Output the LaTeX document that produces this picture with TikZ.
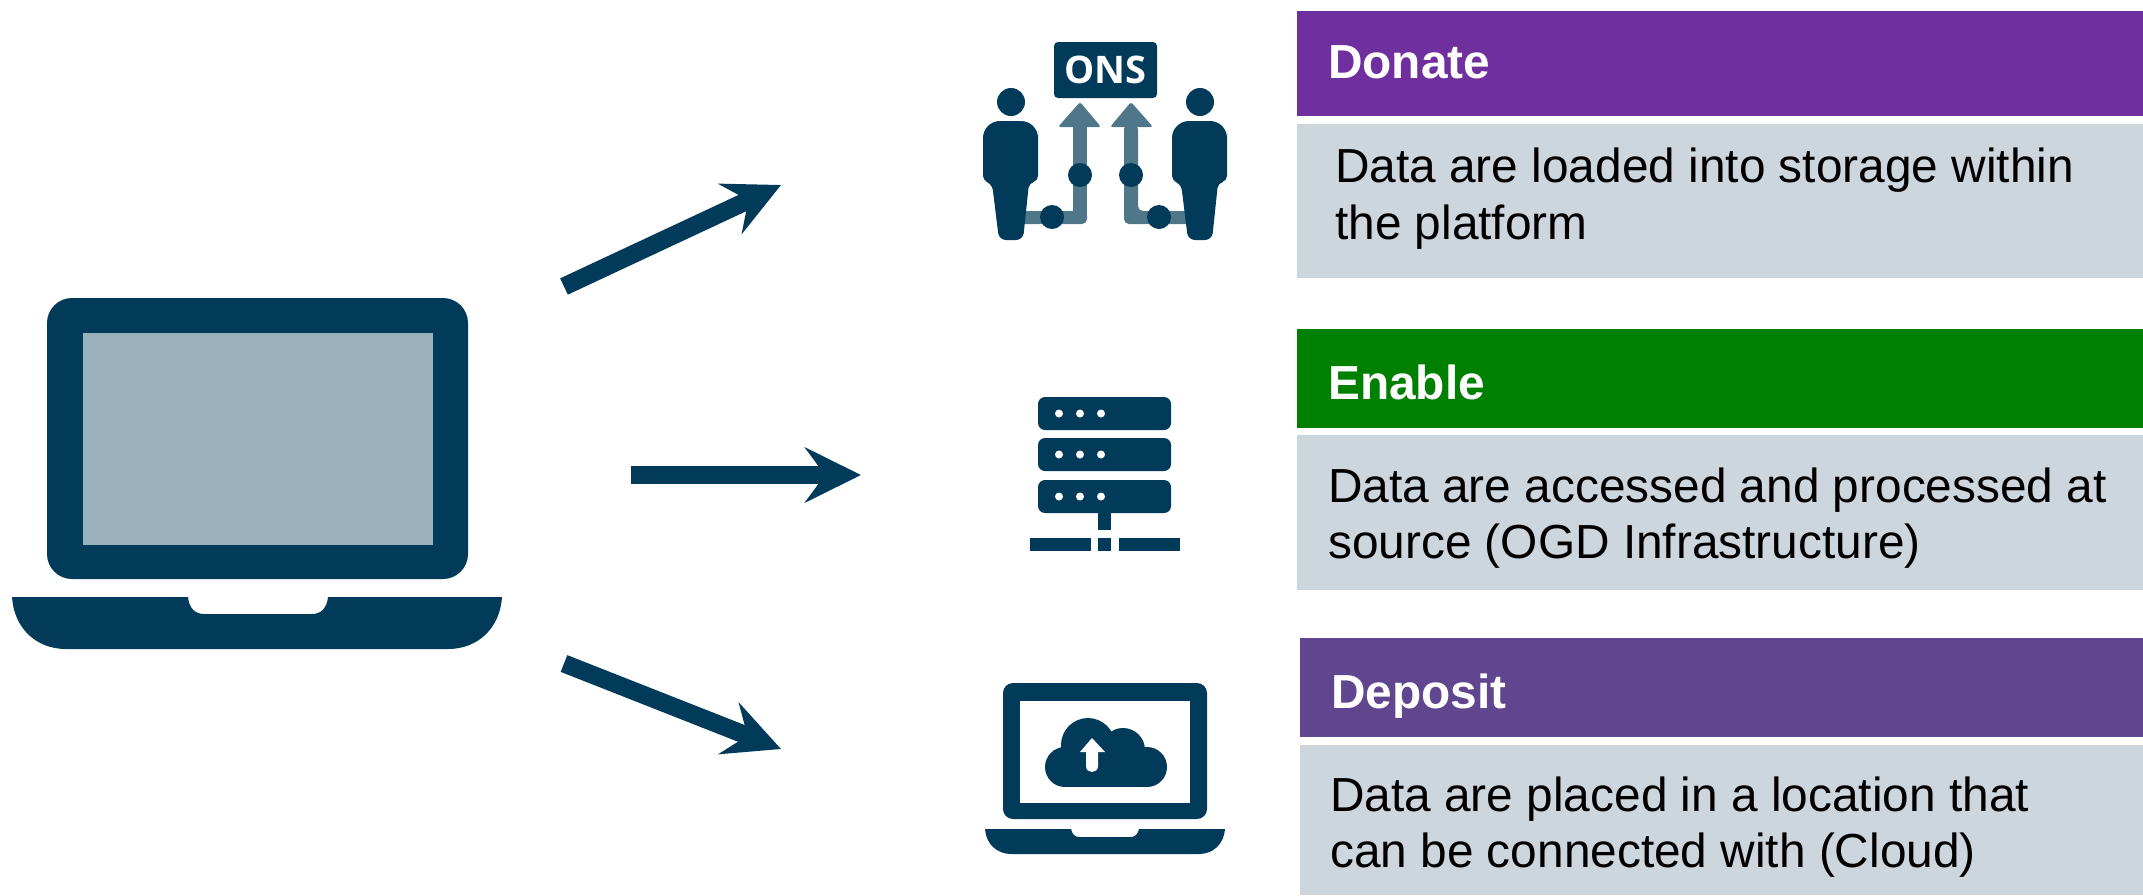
\documentclass[tikz,border=0pt]{standalone}
\usepackage{fontspec}
\setmainfont{Liberation Sans}
\newfontfamily\iconfont{Open Sans}
\usetikzlibrary{arrows.meta}
\definecolor{navy}{HTML}{023B5A}
\definecolor{midblue}{HTML}{4F7689}
\definecolor{screenblue}{HTML}{9AB0BC}
\definecolor{panelgrey}{HTML}{CDD5DD}
\definecolor{donatepurple}{HTML}{6F2F9E}
\definecolor{enablegreen}{HTML}{008000}
\definecolor{depositpurple}{HTML}{60468F}
\tikzset{
  x=1pt,y=-1pt,
  conn/.style={draw=navy,line width=18pt,-{Stealth[length=56pt,width=55pt,inset=20pt,fill=navy]}},
  panel/.style={anchor=north west,inner sep=0pt,outer sep=0pt,draw=none},
  head/.style={anchor=base west,inner sep=0pt,text=white,font=\fontsize{47.8}{58}\selectfont\bfseries},
  body/.style={anchor=base west,inner sep=0pt,text=black,font=\fontsize{47.8}{58}\selectfont},
  person/.pic={
    \fill[navy] (0,0) circle[radius=14];
    \fill[navy,rounded corners=17pt] (-28,45) -- (-28,19) -- (27,19) -- (27,45)
      [rounded corners=5pt] -- (27,79) -- (18,81)
      [rounded corners=7pt] -- (12,138) -- (-12,138)
      -- (-19,81) [rounded corners=5pt] -- (-28,79) -- cycle;
  },
  srv/.pic={
    \fill[navy,rounded corners=7pt] (0,0) rectangle (133,33);
    \foreach \d in {21,42,63} \fill[white] (\d,16.5) circle[radius=4];
  },
}
\begin{document}
\begin{tikzpicture}
\useasboundingbox (0,0) rectangle (2143,895);
% panels
\node[panel,fill=donatepurple,minimum width=846pt,minimum height=105pt] (donate) at (1297,11) {};
\node[panel,fill=panelgrey,minimum width=846pt,minimum height=154pt] (donatebody) at (1297,124) {};
\node[panel,fill=enablegreen,minimum width=846pt,minimum height=99pt] (enable) at (1297,329) {};
\node[panel,fill=panelgrey,minimum width=846pt,minimum height=155pt] (enablebody) at (1297,435) {};
\node[panel,fill=depositpurple,minimum width=843pt,minimum height=99pt] (deposit) at (1300,638) {};
\node[panel,fill=panelgrey,minimum width=843pt,minimum height=150pt] (depositbody) at (1300,745) {};
% panel text
\node[head] (t1) at (1328,78) {Donate};
\node[body] (t2) at (1335,182) {Data are loaded into storage within};
\node[body] (t3) at (1335,239) {the platform};
\node[head] (t4) at (1328,399) {Enable};
\node[body] (t5) at (1328,502) {Data are accessed and processed at};
\node[body] (t6) at (1328,558) {source (OGD Infrastructure)};
\node[head] (t7) at (1331,708) {Deposit};
\node[body] (t8) at (1330,811) {Data are placed in a location that};
\node[body] (t9) at (1330,867) {can be connected with (Cloud)};
% main laptop
\fill[navy,rounded corners=25pt] (47,298) rectangle (468,579);
\fill[screenblue] (83,333) rectangle (433,545);
\fill[navy] (12,597) -- (188,597) .. controls (189,608) and (195,614) .. (204,614)
  -- (312,614) .. controls (321,614) and (327,608) .. (328,597) -- (502,597)
  .. controls (500,628) and (478,649) .. (448,649) -- (66,649)
  .. controls (36,649) and (14,628) .. (12,597) -- cycle;
% arrows
\coordinate (a1s) at (564,286.5); \coordinate (a1e) at (781,185);
\coordinate (a2s) at (631,475); \coordinate (a2e) at (861,475);
\coordinate (a3s) at (564,663.5); \coordinate (a3e) at (781,749);
\draw[conn] (a1s) -- (a1e);
\draw[conn] (a2s) -- (a2e);
\draw[conn] (a3s) -- (a3e);
% ONS icon
\fill[midblue,rounded corners=5pt] (1015,211) -- (1087,211) -- (1087,224) -- (1015,224) -- cycle;
\fill[midblue] (1073,124) rectangle (1087,216);
\fill[midblue,rounded corners=2.5pt] (1058,127) -- (1080,102) -- (1101,127) -- cycle;
\fill[midblue,rounded corners=5pt] (1124,124) -- (1138,124) -- (1138,211) -- (1195,211) -- (1195,224) -- (1124,224) -- cycle;
\fill[midblue,rounded corners=2.5pt] (1110,127) -- (1131,102) -- (1153,127) -- cycle;
\fill[navy] (1080,175) circle[radius=12] (1052,217) circle[radius=12] (1131,175) circle[radius=12] (1159,217) circle[radius=12];
\pic at (1011,102) {person};
\pic at (1200,102) {person};
\node[fill=navy,rounded corners=4pt,minimum width=103pt,minimum height=56pt,inner sep=0pt,text=white,font=\iconfont\fontsize{38}{38}\selectfont\bfseries] (ons) at (1105.5,70) {ONS};
% server icon
\pic at (1038,397) {srv};
\pic at (1038,438) {srv};
\pic at (1038,480) {srv};
\fill[navy] (1098,513) rectangle (1111,530);
\fill[navy] (1030,538) rectangle (1091,551);
\fill[navy] (1098,538) rectangle (1111,551);
\fill[navy] (1119,538) rectangle (1180,551);
% cloud laptop
\fill[navy,rounded corners=10pt] (1003,683) rectangle (1207,819);
\fill[white] (1020,701) rectangle (1190,803);
\fill[navy] (985,829) -- (1071,829) .. controls (1072,834) and (1075,837) .. (1079,837)
  -- (1131,837) .. controls (1135,837) and (1138,834) .. (1139,829) -- (1225,829)
  .. controls (1224,844) and (1213,854) .. (1199,854) -- (1011,854)
  .. controls (997,854) and (986,844) .. (985,829) -- cycle;
\fill[navy] (1065,767) circle[radius=20] (1088,745) circle[radius=27] (1123,750) circle[radius=22] (1147,767) circle[radius=20];
\fill[navy] (1065,755) rectangle (1147,787);
\fill[white] (1092,738) -- (1105,752) -- (1098,752) -- (1098,766) .. controls (1098,774) and (1086,774) .. (1086,766) -- (1086,752) -- (1080,752) -- cycle;
\end{tikzpicture}
\end{document}
